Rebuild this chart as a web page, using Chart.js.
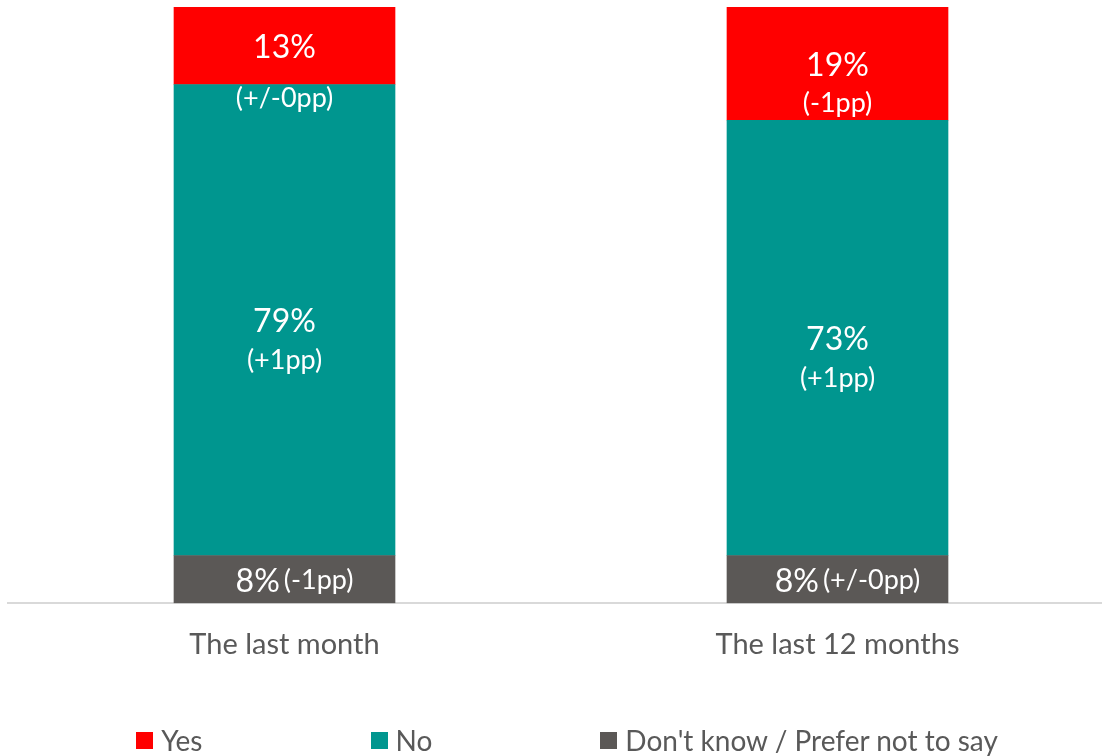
<!DOCTYPE html>
<html>
<head>
<meta charset="utf-8">
<script src="https://cdn.jsdelivr.net/npm/chart.js@4/dist/chart.umd.min.js"></script>
<style>
    body { margin: 0; overflow: hidden; background: #fff; width: 1102px; height: 756px; position: relative; }
    #wrap { position: absolute; left: 0; top: 0; width: 1114px; height: 756px; }
    #legend {
        position: absolute; left: 16px; top: 723px; width: 1102px; height: 34px;
        display: flex; justify-content: center; align-items: center; gap: 168px;
        font-family: Lato, "Open Sans", sans-serif; font-size: 28px; color: #595959;
        white-space: nowrap;
    }
    #legend .item { display: flex; align-items: center; }
    #legend .box { width: 17px; height: 17px; margin-right: 8px; }
</style>
</head>
<body>
<div id="wrap"><canvas id="chart_answers"></canvas></div>
<div id="legend"></div>
<script>
const categories = ['The last month', 'The last 12 months'];

const yes_values = [13, 19];
const no_values = [79, 73];
const dont_know_values = [8, 8];

// change vs previous wave, shown under / beside each percentage
const yes_changes = ['(+/-0pp)', '(-1pp)'];
const no_changes = ['(+1pp)', '(+1pp)'];
const dont_know_changes = ['(-1pp)', '(+/-0pp)'];

const FONT = 'Lato, "Open Sans", sans-serif';
const GREY_TEXT = '#595959';

const data = {
    labels: categories,
    datasets: [
        {
            label: "Don't know / Prefer not to say",
            data: dont_know_values,
            changes: dont_know_changes,
            backgroundColor: '#5b5856',
            inline: true,
        },
        {
            label: 'No',
            data: no_values,
            changes: no_changes,
            backgroundColor: '#00968f',
        },
        {
            label: 'Yes',
            data: yes_values,
            changes: yes_changes,
            backgroundColor: '#ff0000',
        },
    ]
};

// writes "xx%" plus the pp change onto every segment
const segmentLabels = {
    id: 'segmentLabels',
    afterDatasetsDraw(chart) {
        const ctx = chart.ctx;
        ctx.save();
        ctx.fillStyle = '#ffffff';
        ctx.textBaseline = 'middle';
        chart.data.datasets.forEach((ds, di) => {
            const meta = chart.getDatasetMeta(di);
            meta.data.forEach((bar, i) => {
                const value = ds.data[i] + '%';
                const change = ds.changes[i];
                const mid = (bar.y + bar.base) / 2;
                if (ds.inline) {
                    ctx.font = '32px ' + FONT;
                    const w1 = ctx.measureText(value).width;
                    ctx.font = '27px ' + FONT;
                    const w2 = ctx.measureText(change).width;
                    const gap = 4;
                    const x = bar.x + 10 - (w1 + gap + w2) / 2;
                    ctx.textAlign = 'left';
                    ctx.font = '32px ' + FONT;
                    ctx.fillText(value, x, mid + 2);
                    ctx.font = '27px ' + FONT;
                    ctx.fillText(change, x + w1 + gap, mid + 1);
                } else {
                    ctx.textAlign = 'center';
                    ctx.font = '32px ' + FONT;
                    ctx.fillText(value, bar.x, mid + 2);
                    ctx.font = '27px ' + FONT;
                    // the short red segment of the first bar pushes its change line lower
                    const dy = (ds.label === 'Yes' && i === 0) ? 51 : 38;
                    ctx.fillText(change, bar.x, mid + 2 + dy);
                }
            });
        });
        ctx.restore();
    }
};

// legend in the page, in Yes / No / Don't know order
const htmlLegend = {
    id: 'htmlLegend',
    afterUpdate(chart) {
        const box = document.getElementById('legend');
        box.innerHTML = '';
        chart.data.datasets.slice().reverse().forEach((ds) => {
            const item = document.createElement('div');
            item.className = 'item';
            const sw = document.createElement('span');
            sw.className = 'box';
            sw.style.background = ds.backgroundColor;
            const txt = document.createElement('span');
            txt.textContent = ds.label;
            item.appendChild(sw);
            item.appendChild(txt);
            box.appendChild(item);
        });
    }
};

const options = {
    responsive: true,
    maintainAspectRatio: false,
    animation: false,
    layout: {
        padding: { left: 8, right: 0, top: 7, bottom: 70 },
    },
    plugins: {
        legend: { display: false },
        tooltip: { enabled: false },
    },
    scales: {
        x: {
            stacked: true,
            grid: { display: false, drawTicks: false },
            border: { display: true, color: '#d9d9d9', width: 2 },
            ticks: {
                color: GREY_TEXT,
                padding: 24,
                font: { family: FONT, size: 29 },
            },
        },
        y: {
            stacked: true,
            display: false,
            min: 0,
            max: 100,
        },
    },
    datasets: {
        bar: { barThickness: 221 },
    },
};

new Chart(document.getElementById('chart_answers'), {
    type: 'bar',
    data: data,
    options: options,
    plugins: [segmentLabels, htmlLegend],
});
</script>
</body>
</html>
